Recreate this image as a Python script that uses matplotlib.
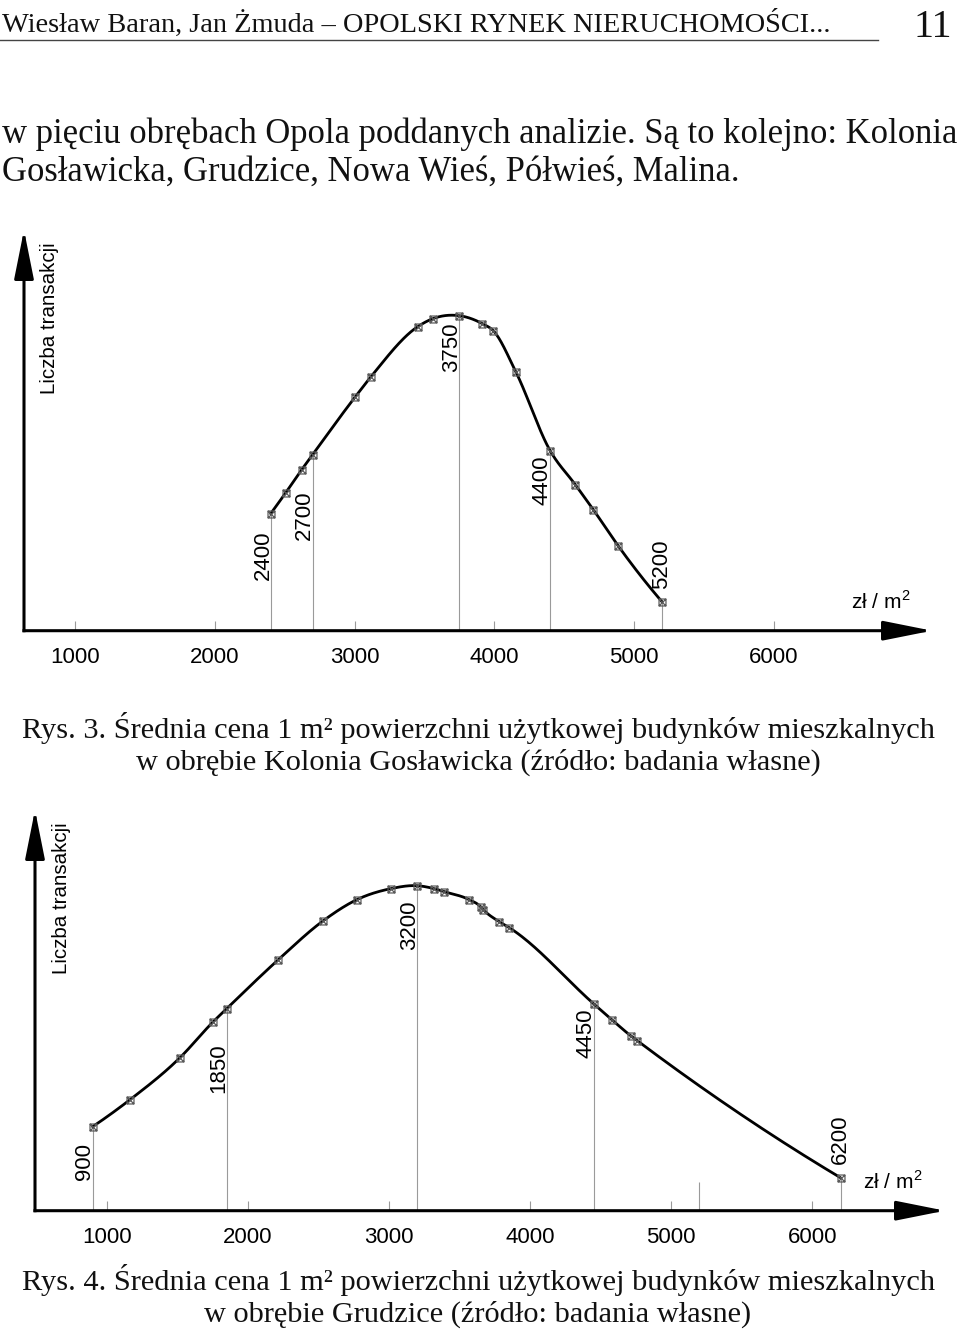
import numpy as np
import matplotlib
matplotlib.use("Agg")
import matplotlib.pyplot as plt
from matplotlib import font_manager as fm
from matplotlib.path import Path
from matplotlib.patches import ArrowStyle
from matplotlib.lines import Line2D

# ---------------- data ----------------
x_ticks = [1000, 2000, 3000, 4000, 5000, 6000]
x_tick_labels = ["1000", "2000", "3000", "4000", "5000", "6000"]

# Rys. 3 - Kolonia Gosławicka (price zł/m2, relative number of transactions)
prices_kg = [2400, 2508, 2622, 2700, 3006, 3118, 3452, 3560, 3750, 3915, 3993,
             4154, 4400, 4580, 4709, 4886, 5200]
counts_kg = [11.7, 13.8, 16.1, 17.6, 23.4, 25.4, 30.4, 31.2, 31.5, 30.7, 30.0,
             25.9, 18.0, 14.6, 12.1, 8.5, 2.9]
marked_kg = [2400, 2700, 3750, 4400, 5200]

# Rys. 4 - Grudzice
prices_gr = [900, 1165, 1519, 1755, 1850, 2216, 2535, 2772, 3012, 3200, 3321,
             3392, 3569, 3650, 3669, 3782, 3853, 4450, 4579, 4713, 4760, 6200]
counts_gr = [8.4, 11.1, 15.3, 18.9, 20.2, 25.1, 29.0, 31.1, 32.2, 32.5, 32.2,
             31.9, 31.1, 30.4, 30.1, 28.9, 28.3, 20.7, 19.1, 17.5, 17.0, 3.3]
marked_gr = [900, 1850, 3200, 4450, 6200]
extra_gr = [5200]
extra_gr_h = [2.9]

y_label = "Liczba transakcji"
x_unit = "zł / m$^2$"
header = "Wiesław Baran, Jan Żmuda – OPOLSKI RYNEK NIERUCHOMOŚCI..."
page_no = "11"
body = ["w pięciu obrębach Opola poddanych analizie. Są to kolejno: Kolonia",
        "Gosławicka, Grudzice, Nowa Wieś, Półwieś, Malina."]
cap3 = ["Rys. 3. Średnia cena 1 m² powierzchni użytkowej budynków mieszkalnych",
        "w obrębie Kolonia Gosławicka (źródło: badania własne)"]
cap4 = ["Rys. 4. Średnia cena 1 m² powierzchni użytkowej budynków mieszkalnych",
        "w obrębie Grudzice (źródło: badania własne)"]

# ---------------- layout / style ----------------
W, H = 960, 1331
avail = {f.name for f in fm.fontManager.ttflist}
if "Liberation Sans Narrow" in avail:
    NUM_FONT, NUM_SIZE = "Liberation Sans Narrow", 18
else:
    NUM_FONT, NUM_SIZE = "Liberation Sans", 16
SERIF = "Liberation Serif"
GRAY = "#9a9a9a"
plt.rcParams["mathtext.fontset"] = "custom"
plt.rcParams["mathtext.rm"] = NUM_FONT

BOXX = Path([(-1, -1), (1, -1), (1, 1), (-1, 1), (-1, -1),
             (-1, -1), (1, 1), (1, -1), (-1, 1)],
            [Path.MOVETO, Path.LINETO, Path.LINETO, Path.LINETO, Path.CLOSEPOLY,
             Path.MOVETO, Path.LINETO, Path.MOVETO, Path.LINETO])


def smooth(xs, ys, n=40):
    x = np.asarray(xs, float)
    y = np.asarray(ys, float)
    h = np.diff(x)
    d = np.diff(y) / h
    m = np.empty_like(y)
    m[1:-1] = (h[1:] * d[:-1] + h[:-1] * d[1:]) / (h[1:] + h[:-1])
    m[0] = ((2 * h[0] + h[1]) * d[0] - h[0] * d[1]) / (h[0] + h[1])
    m[-1] = ((2 * h[-1] + h[-2]) * d[-1] - h[-1] * d[-2]) / (h[-1] + h[-2])
    X, Y = [], []
    for i in range(len(x) - 1):
        t = np.linspace(0, 1, n, endpoint=(i == len(x) - 2))
        h00 = 2 * t**3 - 3 * t**2 + 1
        h10 = t**3 - 2 * t**2 + t
        h01 = -2 * t**3 + 3 * t**2
        h11 = t**3 - t**2
        X.append(x[i] + t * h[i])
        Y.append(h00 * y[i] + h10 * h[i] * m[i] + h01 * y[i + 1] + h11 * h[i] * m[i + 1])
    return np.concatenate(X), np.concatenate(Y)


fig = plt.figure(figsize=(W / 100, H / 100), dpi=100)
fig.patch.set_facecolor("white")


def add_chart(axis_px, yaxis_px, right_px, top_px, px1000, px_per_1000,
              prices, counts, marked, lab_y, lab_center, extra=None, extra_h=None):
    rect = [yaxis_px / W, (H - axis_px) / H, (right_px - yaxis_px) / W, (axis_px - top_px) / H]
    ax = fig.add_axes(rect)
    xmin = 1000 - (px1000 - yaxis_px) / px_per_1000 * 1000
    xmax = 1000 + (right_px - px1000) / px_per_1000 * 1000
    ax.set_xlim(xmin, xmax)
    ax.set_ylim(0, (axis_px - top_px) / 10)
    for s in ax.spines.values():
        s.set_visible(False)
    ax.set_yticks([])
    ax.set_xticks(x_ticks)
    ax.set_xticklabels(x_tick_labels, fontfamily=NUM_FONT, fontsize=NUM_SIZE)
    ax.tick_params(axis="x", direction="in", length=7.2, width=0.8, color=GRAY, pad=11.5)
    ax.patch.set_alpha(0)

    lookup = dict(zip(prices, counts))
    ax.vlines(marked, 0, [lookup[v] for v in marked], color=GRAY, lw=0.8, zorder=1)
    if extra:
        ax.vlines(extra, 0, extra_h, color=GRAY, lw=0.8, zorder=1)

    xs, ys = smooth(prices, counts)
    ax.plot(xs, ys, color="black", lw=2.0, solid_capstyle="round", zorder=3, clip_on=False)
    ax.plot(prices, counts, ls="none", marker=BOXX, ms=5, mfc="none", mec="#5a5a5a",
            mew=0.9, zorder=4, clip_on=False)

    for v, ly, c in zip(marked, lab_y, lab_center):
        if c:
            ax.text(v, ly, str(v), rotation=90, ha="center", va="bottom",
                    family=NUM_FONT, fontsize=NUM_SIZE)
        else:
            ax.annotate(str(v), (v, ly), xytext=(2, 0), textcoords="offset points",
                        rotation=90, ha="right", va="bottom",
                        family=NUM_FONT, fontsize=NUM_SIZE)

    ap = dict(arrowstyle=ArrowStyle("-|>", head_length=30, head_width=6),
              mutation_scale=1, lw=2.2, color="black", shrinkA=0, shrinkB=0,
              clip_on=False, capstyle="projecting")
    ax.annotate("", xy=(1, 0), xytext=(0, 0), xycoords="axes fraction",
                arrowprops=ap, annotation_clip=False)
    ax.annotate("", xy=(0, 1), xytext=(0, 0), xycoords="axes fraction",
                arrowprops=ap, annotation_clip=False)

    ax.text(0.0286, 0.78, y_label, rotation=90, transform=ax.transAxes,
            ha="center", va="center", family="Liberation Sans", fontsize=14.8)
    ax.text(0.943, 0.074, x_unit, transform=ax.transAxes, ha="center", va="center",
            family=NUM_FONT, fontsize=NUM_SIZE - 1)
    return ax


ax1 = add_chart(630.7, 24, 932, 230, 75, 139.75, prices_kg, counts_kg, marked_kg,
                [5.1, 9.1, 25.9, 12.6, 4.2], [False, False, False, False, True])
ax2 = add_chart(1210.7, 35, 945, 810, 106.7, 141.12, prices_gr, counts_gr, marked_gr,
                [3.1, 11.8, 26.1, 15.3, 4.7], [False, False, False, False, True],
                extra_gr, extra_gr_h)

# ---------------- page text ----------------
renderer = fig.canvas.get_renderer()


def put(s, x_px, y_px, size, ha="left", fit=None, **kw):
    t = fig.text(x_px / W, 1 - y_px / H, s, ha=ha, va="baseline",
                 family=SERIF, fontsize=size, **kw)
    if fit:
        w = t.get_window_extent(renderer).width
        t.set_fontsize(size * fit / w)
    return t


th = put(header, 2, 32, 20, fit=828, color="#111111")
put(page_no, 952, 37, 29, ha="right", color="#111111")
fig.add_artist(Line2D([0, 878 / W], [1 - 40 / H, 1 - 40 / H], color="#444444", lw=1.0,
                      transform=fig.transFigure))

tb = put(body[0], 2, 143, 22, fit=953, color="#111111")
put(body[1], 2, 181, tb.get_fontsize(), color="#111111")

tc = put(cap3[0], 22, 738, 20, fit=913, color="#111111")
put(cap3[1], 478, 770, tc.get_fontsize(), ha="center", color="#111111")

td = put(cap4[0], 22, 1290, 20, fit=913, color="#111111")
put(cap4[1], 478, 1322, td.get_fontsize(), ha="center", color="#111111")

fig.savefig("out.png", dpi=100, facecolor="white")
